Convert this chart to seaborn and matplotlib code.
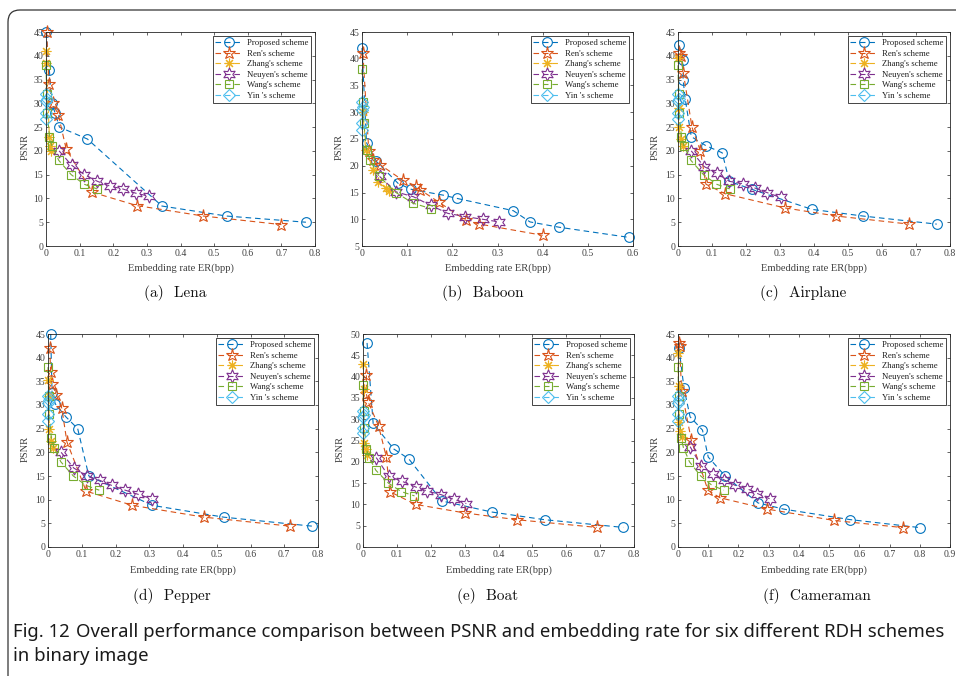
import matplotlib
matplotlib.use("Agg")
import matplotlib.pyplot as plt
import seaborn as sns
import numpy as np
from matplotlib.ticker import FuncFormatter, MultipleLocator
from matplotlib.patches import FancyBboxPatch
from matplotlib.transforms import IdentityTransform
from matplotlib import font_manager

# ---------------- data ----------------
series_names = ["Proposed scheme", "Ren's scheme", "Zhang's scheme",
                "Neuyen's scheme", "Wang's scheme", "Yin 's scheme"]

yin_x = [0.0, 0.002, 0.0, 0.001, 0.0]
yin_y = [32, 31, 30.5, 28, 26.7]
wang_x_std = [0.0, 0.002, 0.004, 0.01, 0.018, 0.038, 0.075, 0.113, 0.152]
wang_y_std = [38, 32, 28, 23, 21, 18, 15, 13, 12]

# (a) Lena
lena_prop_x = [0.0, 0.01, 0.017, 0.027, 0.04, 0.123, 0.345, 0.537, 0.773]
lena_prop_y = [45, 37, 30, 28, 25, 22.5, 8.4, 6.3, 5.0]
lena_ren_x = [0.002, 0.009, 0.02, 0.037, 0.06, 0.138, 0.27, 0.468, 0.70]
lena_ren_y = [45, 34, 30, 27.5, 20.4, 11.3, 8.5, 6.3, 4.5]
lena_zhang_x = [0.0, 0.001, 0.01, 0.013, 0.016]
lena_zhang_y = [41, 38.5, 23, 21, 20]
lena_neu_x = [0.039, 0.076, 0.114, 0.153, 0.19, 0.228, 0.267, 0.305]
lena_neu_y = [20, 17, 15, 13.6, 12.6, 12, 11.1, 10.5]

# (b) Baboon
bab_prop_x = [0.0, 0.01, 0.032, 0.08, 0.109, 0.18, 0.21, 0.335, 0.372, 0.437, 0.592]
bab_prop_y = [42, 24.3, 20.8, 16.7, 15.6, 14.5, 13.9, 11.6, 9.5, 8.5, 6.6]
bab_ren_x = [0.002, 0.015, 0.025, 0.04, 0.09, 0.12, 0.129, 0.17, 0.23, 0.26, 0.40]
bab_ren_y = [41, 22.8, 21, 20.2, 17.3, 16.2, 15.5, 13.2, 9.8, 9.1, 7.0]
bab_zhang_x = [0.002, 0.008, 0.025, 0.035, 0.053, 0.06]
bab_zhang_y = [30, 23, 19.2, 17, 15.8, 15.3]
bab_neu_x = [0.039, 0.076, 0.114, 0.152, 0.19, 0.228, 0.267, 0.304]
bab_neu_y = [18, 15.1, 14.2, 12.6, 11.1, 10.5, 10, 9.5]

# (c) Airplane
air_prop_x = [0.003, 0.015, 0.015, 0.021, 0.039, 0.082, 0.13, 0.151, 0.218, 0.394, 0.544, 0.761]
air_prop_y = [42.2, 39.2, 35, 31, 23, 21.1, 19.6, 13.6, 11.9, 7.7, 6.3, 4.6]
air_ren_x = [0.003, 0.008, 0.016, 0.041, 0.066, 0.082, 0.138, 0.315, 0.466, 0.68]
air_ren_y = [40.5, 40, 36.3, 25, 20, 13, 11, 8, 6.3, 4.6]
air_zhang_x = [0.001, 0.002, 0.003, 0.008, 0.015]
air_zhang_y = [39.5, 29, 25, 22.5, 21]
air_neu_x = [0.039, 0.077, 0.114, 0.151, 0.19, 0.226, 0.263, 0.302]
air_neu_y = [20, 16.7, 15.3, 13.6, 13.1, 12.2, 11.2, 10.2]

# (d) Pepper
pep_prop_x = [0.008, 0.012, 0.022, 0.053, 0.088, 0.121, 0.309, 0.521, 0.783]
pep_prop_y = [45, 32.5, 30.2, 27.5, 25, 15, 8.8, 6.3, 4.4]
pep_ren_x = [0.005, 0.008, 0.012, 0.025, 0.041, 0.056, 0.113, 0.25, 0.463, 0.718]
pep_ren_y = [42, 36.9, 34.5, 32.1, 29.3, 22.2, 11.8, 8.8, 6.3, 4.4]
pep_zhang_x = [0.001, 0.003, 0.004, 0.01, 0.014]
pep_zhang_y = [35.3, 32, 25, 22.5, 21]
pep_neu_x = [0.039, 0.076, 0.117, 0.153, 0.189, 0.229, 0.268, 0.307]
pep_neu_y = [20, 16.7, 14.9, 14.1, 13, 12, 11.1, 10.2]

# (e) Boat
boat_prop_x = [0.012, 0.03, 0.091, 0.135, 0.233, 0.381, 0.537, 0.768]
boat_prop_y = [47.9, 29, 23, 20.7, 10.8, 8.2, 6.4, 4.6]
boat_ren_x = [0.01, 0.01, 0.015, 0.046, 0.069, 0.079, 0.155, 0.30, 0.455, 0.69]
boat_ren_y = [40.3, 35.9, 34.1, 28.4, 21.1, 13, 10, 8, 6.4, 4.6]
boat_zhang_x = [0.0, 0.002, 0.004, 0.008, 0.013]
boat_zhang_y = [43, 37, 24.5, 23, 21.5]
boat_neu_x = [0.039, 0.076, 0.116, 0.155, 0.19, 0.23, 0.268, 0.305]
boat_neu_y = [21, 16.6, 15.4, 14.1, 13.1, 12.3, 11.2, 10.2]

# (f) Cameraman
cam_prop_x = [0.003, 0.02, 0.04, 0.081, 0.1, 0.156, 0.265, 0.35, 0.568, 0.80]
cam_prop_y = [42.1, 33.5, 27.5, 24.7, 19, 15, 9.3, 8, 5.8, 4.1]
cam_ren_x = [0.002, 0.005, 0.012, 0.044, 0.099, 0.139, 0.296, 0.517, 0.744]
cam_ren_y = [43.2, 42.5, 33, 22.6, 12, 10.4, 8, 5.6, 4.1]
cam_zhang_x = [0.0, 0.002, 0.004, 0.006, 0.012]
cam_zhang_y = [41, 34, 26.5, 24.5, 23.3]
cam_neu_x = [0.04, 0.077, 0.115, 0.152, 0.19, 0.229, 0.263, 0.303]
cam_neu_y = [21.2, 17.1, 15.5, 14.2, 13, 12.3, 11.3, 10.2]

panel_titles = ["(a)  Lena", "(b)  Baboon", "(c)  Airplane",
                "(d)  Pepper", "(e)  Boat", "(f)  Cameraman"]
panel_xlim = [0.8, 0.6, 0.8, 0.8, 0.8, 0.9]
panel_ylim = [(0, 45), (5, 45), (0, 45), (0, 45), (0, 50), (0, 45)]

caption_bold = "Fig. 12"
caption_line1 = "Overall performance comparison between PSNR and embedding rate for six different RDH schemes"
caption_line2 = "in binary image"

panels = [
    [(lena_prop_x, lena_prop_y), (lena_ren_x, lena_ren_y), (lena_zhang_x, lena_zhang_y),
     (lena_neu_x, lena_neu_y), (wang_x_std, wang_y_std), (yin_x, yin_y)],
    [(bab_prop_x, bab_prop_y), (bab_ren_x, bab_ren_y), (bab_zhang_x, bab_zhang_y),
     (bab_neu_x, bab_neu_y), (wang_x_std, wang_y_std), (yin_x, yin_y)],
    [(air_prop_x, air_prop_y), (air_ren_x, air_ren_y), (air_zhang_x, air_zhang_y),
     (air_neu_x, air_neu_y), (wang_x_std, wang_y_std), (yin_x, yin_y)],
    [(pep_prop_x, pep_prop_y), (pep_ren_x, pep_ren_y), (pep_zhang_x, pep_zhang_y),
     (pep_neu_x, pep_neu_y), (wang_x_std, wang_y_std), (yin_x, yin_y)],
    [(boat_prop_x, boat_prop_y), (boat_ren_x, boat_ren_y), (boat_zhang_x, boat_zhang_y),
     (boat_neu_x, boat_neu_y), (wang_x_std, wang_y_std), (yin_x, yin_y)],
    [(cam_prop_x, cam_prop_y), (cam_ren_x, cam_ren_y), (cam_zhang_x, cam_zhang_y),
     (cam_neu_x, cam_neu_y), (wang_x_std, wang_y_std), (yin_x, yin_y)],
]

# ---------------- style ----------------
sns.set_style("ticks")
plt.rcParams["font.family"] = ["Liberation Serif", "DejaVu Serif"]

colors = ["#0072BD", "#D95319", "#EDB120", "#7E2F8E", "#77AC30", "#4DBEEE"]
markers = ["o", "*", (8, 2, 0), (6, 1, 0), "s", "D"]
msizes = [7, 9.5, 7, 9.5, 6, 6]
AXC = "#262626"
TXC = "#404040"

W, H = 956, 676
fig = plt.figure(figsize=(W / 100, H / 100), dpi=100)

# axes boxes in pixels (left, top, right, bottom)
boxes = [(46, 32, 315, 246), (362, 32, 633, 246), (678, 32, 950, 246),
         (48, 334, 318, 547), (363, 334, 634, 547), (678, 334, 950, 547)]
ylab_x = [25, 339, 655, 25, 340, 655]

fmt = FuncFormatter(lambda v, p: ("%g" % round(v, 3)))

for i, (l, t, r, b) in enumerate(boxes):
    ax = fig.add_axes([l / W, 1 - b / H, (r - l) / W, (b - t) / H])
    for j, (xs, ys) in enumerate(panels[i]):
        sns.lineplot(x=xs, y=ys, ax=ax, sort=False, estimator=None,
                     color=colors[j], linestyle=(0, (5, 3.5)), linewidth=0.8,
                     marker=markers[j], markersize=msizes[j],
                     markerfacecolor="none", markeredgecolor=colors[j],
                     markeredgewidth=0.8, label=series_names[j], clip_on=False)
    ax.set_xlim(0, panel_xlim[i])
    ax.set_ylim(*panel_ylim[i])
    ax.xaxis.set_major_locator(MultipleLocator(0.1))
    ax.yaxis.set_major_locator(MultipleLocator(5))
    ax.xaxis.set_major_formatter(fmt)
    ax.yaxis.set_major_formatter(fmt)
    ax.tick_params(direction="in", length=2.5, width=0.5, top=True, right=True,
                   labelsize=7, colors=AXC, labelcolor=TXC, pad=2)
    for s in ax.spines.values():
        s.set_linewidth(0.6)
        s.set_color(AXC)
    ax.set_xlabel("")
    ax.set_ylabel("")
    leg = ax.legend(loc="upper right", fontsize=6.3, frameon=True, fancybox=False,
                    edgecolor=AXC, framealpha=1, handlelength=3.2,
                    labelspacing=0.28, borderpad=0.3, borderaxespad=0.5,
                    handletextpad=0.4)
    leg.get_frame().set_linewidth(0.6)
    for txt in leg.get_texts():
        txt.set_color("#202020")

    cx = (l + r) / 2
    xl_y = 268 if i < 3 else 570
    fig.text(cx / W, 1 - xl_y / H, "Embedding rate ER(bpp)", ha="center",
             va="center", fontsize=7.6, color=TXC)
    cy = (t + b) / 2 + 8
    fig.text(ylab_x[i] / W, 1 - cy / H, "PSNR", rotation=90, ha="center",
             va="center", fontsize=7.6, color=TXC)
    cap_y = 293 if i < 3 else 596
    cap_x = [175, 483, 803, 172, 488, 817][i]
    fig.text(cap_x / W, 1 - cap_y / H, panel_titles[i], ha="center", va="center",
             fontsize=11, family=["cmr10", "DejaVu Serif"], color="#111111")

# figure frame (rounded top-left corner)
frame = FancyBboxPatch((8, -60), 1100, H - 10 + 60,
                       boxstyle="round,pad=0,rounding_size=12",
                       transform=IdentityTransform(), fill=False,
                       edgecolor="#333333", linewidth=0.9)
fig.add_artist(frame)

# caption (font size fitted so line 1 spans x = 13..945 px like the reference)
installed = {f.name for f in font_manager.fontManager.ttflist}
cap_font = ["Liberation Sans Narrow"] if "Liberation Sans Narrow" in installed else ["Noto Sans"]
cap_font = cap_font + ["DejaVu Sans"]
renderer = fig.canvas.get_renderer()
fs = 12.0
for _ in range(3):
    t1 = fig.text(13 / W, 1 - 632 / H, caption_bold, ha="left", va="center",
                  fontsize=fs, fontweight="bold", family=cap_font, color="#1a1a1a")
    bb = t1.get_window_extent(renderer=renderer)
    t2 = fig.text((bb.x1 + 0.5 * fs) / W, 1 - 632 / H, caption_line1,
                  ha="left", va="center", fontsize=fs, family=cap_font, color="#1a1a1a")
    bb2 = t2.get_window_extent(renderer=renderer)
    width = bb2.x1 - 13
    t1.remove(); t2.remove()
    fs = fs * 932.0 / width
t1 = fig.text(13 / W, 1 - 632 / H, caption_bold, ha="left", va="center",
              fontsize=fs, fontweight="bold", family=cap_font, color="#1a1a1a")
bb = t1.get_window_extent(renderer=renderer)
fig.text((bb.x1 + 0.5 * fs) / W, 1 - 632 / H, caption_line1,
         ha="left", va="center", fontsize=fs, family=cap_font, color="#1a1a1a")
fig.text(13 / W, 1 - 656 / H, caption_line2, ha="left", va="center",
         fontsize=fs, family=cap_font, color="#1a1a1a")

fig.savefig("out.png", dpi=100)
